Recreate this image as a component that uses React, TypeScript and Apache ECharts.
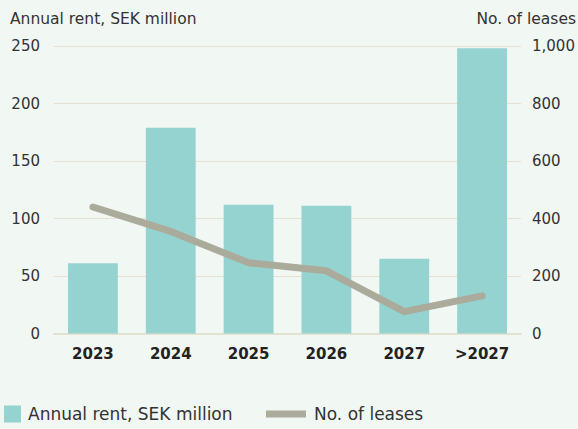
import React, { useEffect, useRef } from "react";
import * as echarts from "echarts";

const categories = ["2023", "2024", "2025", "2026", "2027", ">2027"];
const annualRent = [61, 179, 112, 111, 65, 248];
const noOfLeases = [440, 355, 246, 218, 76, 131];
const rentName = "Annual rent, SEK million";
const leasesName = "No. of leases";

const FONT = "'DejaVu Sans', sans-serif";

export default function App() {
  const ref = useRef<HTMLDivElement>(null);
  useEffect(() => {
    document.body.style.margin = "0";
    const chart = echarts.init(ref.current!, null, { renderer: "svg" });
    chart.setOption({
      animation: false,
      backgroundColor: "#f1f7f3",
      textStyle: { fontFamily: FONT },
      grid: { left: 54, right: 57, top: 46, bottom: 95.5, containLabel: false },
      graphic: [
        {
          type: "text",
          left: 10,
          top: 11,
          style: { text: rentName, font: `15.5px ${FONT}`, fill: "#333" },
        },
        {
          type: "text",
          right: 2,
          top: 11,
          style: { text: leasesName, font: `15.5px ${FONT}`, fill: "#333" },
        },
      ],
      legend: [
        {
          data: [rentName],
          left: 4,
          top: 405,
          padding: 0,
          itemWidth: 17,
          itemHeight: 17,
          icon: "rect",
          textStyle: { fontSize: 17, lineHeight: 18, color: "#333", fontFamily: FONT, padding: [0, 0, 0, 2] },
        },
        {
          data: [leasesName],
          left: 266,
          top: 405,
          padding: 0,
          itemWidth: 40,
          itemHeight: 7,
          icon: "rect",
          textStyle: { fontSize: 17, lineHeight: 18, color: "#333", fontFamily: FONT, padding: [0, 0, 0, 3] },
        },
      ],
      xAxis: {
        type: "category",
        data: categories,
        axisTick: { show: false },
        axisLine: { lineStyle: { color: "#e3e2d1", width: 2 } },
        axisLabel: {
          fontSize: 15,
          fontWeight: "bold",
          color: "#222",
          margin: 13,
          fontFamily: FONT,
        },
      },
      yAxis: [
        {
          type: "value",
          min: 0,
          max: 250,
          interval: 50,
          axisLabel: { fontSize: 15, color: "#333", margin: 14, fontFamily: FONT },
          splitLine: { lineStyle: { color: "#e3e2d1", width: 1 } },
          axisLine: { show: false },
          axisTick: { show: false },
        },
        {
          type: "value",
          min: 0,
          max: 1000,
          interval: 200,
          axisLabel: {
            fontSize: 15,
            color: "#333",
            margin: 11,
            fontFamily: FONT,
            formatter: (v: number) => v.toLocaleString("en-US"),
          },
          splitLine: { show: false },
          axisLine: { show: false },
          axisTick: { show: false },
        },
      ],
      series: [
        {
          name: rentName,
          type: "bar",
          data: annualRent,
          barWidth: "64%",
          itemStyle: { color: "#94d3cf" },
          yAxisIndex: 0,
        },
        {
          name: leasesName,
          type: "line",
          data: noOfLeases,
          yAxisIndex: 1,
          symbol: "none",
          itemStyle: { color: "#aaab9b" },
          lineStyle: { color: "#aaab9b", width: 7, cap: "round", join: "round" },
        },
      ],
    });
    return () => chart.dispose();
  }, []);
  return <div ref={ref} style={{ width: 578, height: 429 }} />;
}
